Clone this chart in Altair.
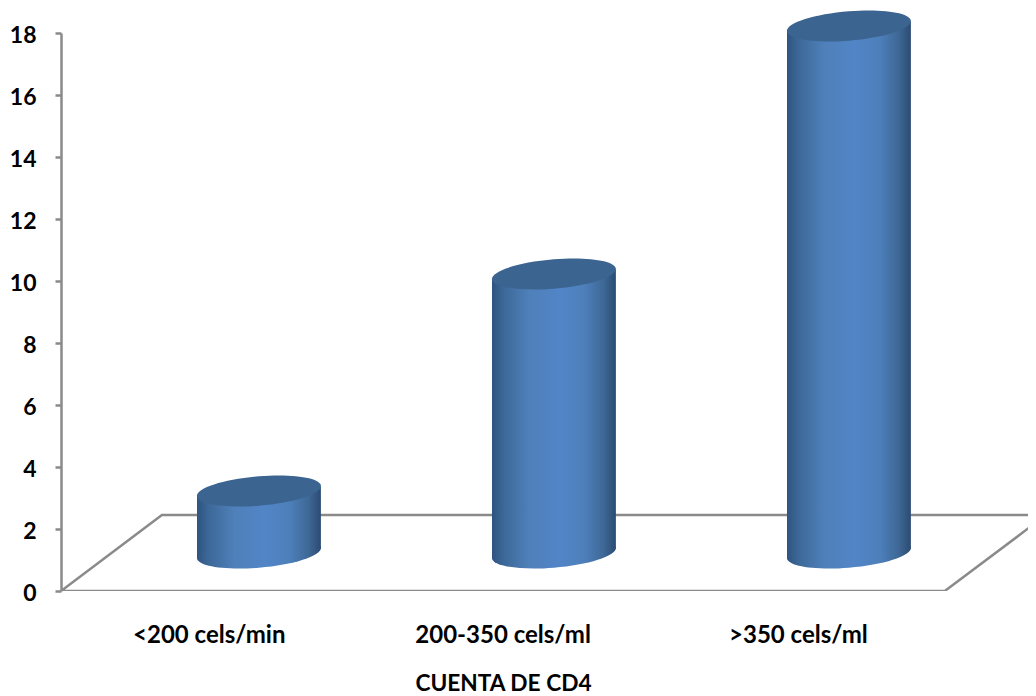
import altair as alt
import pandas as pd

categories = ["<200 cels/min", "200-350 cels/ml", ">350 cels/ml"]
values = [2, 9, 17]
slots = [0, 1, 2]
label_slots = [-0.17, 0.826, 1.827]

base = 1.226        # height of the cylinder floor on the value axis (3D depth)
half_w = 0.21       # half cylinder width in category units
tilt = 0.145        # perspective tilt in value units
floor_depth = 2.45
x_domain = [-0.671, 2.607]
floor_front = [-0.671, 2.325]
floor_back = [-0.329, 2.668]

GREY = "#8a8a8a"
FONT = "Lato"
LABEL_SIZE = 24

body_rows = []
for c, v, s in zip(categories, values, slots):
    body_rows.append(dict(cat=c, x=s - half_w, top=base + v - tilt, bot=base - tilt))
    body_rows.append(dict(cat=c, x=s + half_w, top=base + v + tilt, bot=base + tilt))
body = pd.DataFrame(body_rows)
ends = pd.DataFrame(dict(cat=categories, x=slots,
                         top=[base + v for v in values],
                         bot=[base] * 3))
floor = pd.DataFrame(dict(
    x=[floor_back[1], floor_front[1], floor_front[0], floor_back[0], floor_back[1]],
    y=[floor_depth, 0, 0, floor_depth, floor_depth],
    o=[0, 1, 2, 3, 4]))


def ellipse_path(a=62.0, k=5.0, h=14.7):
    kap = 0.5523
    def P(c, s):
        return f"{c:.4f} {(-k * c + h * s) / a:.4f}"
    return (f"M{P(1,0)} C{P(1,kap)} {P(kap,1)} {P(0,1)} "
            f"C{P(-kap,1)} {P(-1,kap)} {P(-1,0)} "
            f"C{P(-1,-kap)} {P(-kap,-1)} {P(0,-1)} "
            f"C{P(kap,-1)} {P(1,-kap)} {P(1,0)} Z")


grad = alt.Gradient(
    gradient="linear", x1=0, x2=1, y1=0, y2=0,
    stops=[
        alt.GradientStop(offset=0.0, color="#2f5480"),
        alt.GradientStop(offset=0.1, color="#3d6999"),
        alt.GradientStop(offset=0.3, color="#4f80ba"),
        alt.GradientStop(offset=0.55, color="#5285c7"),
        alt.GradientStop(offset=0.75, color="#4d7fba"),
        alt.GradientStop(offset=0.9, color="#3e6896"),
        alt.GradientStop(offset=1.0, color="#2b4b72"),
    ])

x_scale = alt.Scale(domain=x_domain, nice=False, zero=False)
y_scale = alt.Scale(domain=[0, 18], nice=False)

label_expr = " : ".join(
    f"datum.value == {s} ? '{c}'" for s, c in zip(label_slots, categories)) + " : ''"

floor_layer = alt.Chart(floor).mark_line(color=GREY, strokeWidth=2.5, clip=True).encode(
    x=alt.X("x:Q", scale=x_scale, axis=alt.Axis(
        values=label_slots, labelExpr=label_expr, ticks=False, domain=False, grid=False,
        labelFont=FONT, labelFontWeight="bold", labelFontSize=LABEL_SIZE, labelColor="black",
        labelPadding=32, labelOverlap=False, labelFlush=False,
        title="CUENTA DE CD4", titleFont=FONT, titleFontWeight="bold",
        titleFontSize=22.7, titleColor="black", titleX=442, titleY=92,
        titleAnchor="middle", titleAlign="center", titleBaseline="middle")),
    y=alt.Y("y:Q", scale=y_scale, axis=alt.Axis(
        values=list(range(0, 19, 2)), title=None, grid=False,
        domainColor=GREY, domainWidth=2.5, tickColor=GREY, tickWidth=2.5, tickSize=6,
        labelFont=FONT, labelFontWeight="bold", labelFontSize=23, labelColor="black",
        labelPadding=19, labelOffset=2.5)),
    order="o:Q")

bottom_layer = alt.Chart(ends).mark_point(
    shape=ellipse_path(), size=15376, filled=True, fill=grad, opacity=1, strokeWidth=0
).encode(x=alt.X("x:Q", scale=x_scale), y=alt.Y("bot:Q", scale=y_scale))

body_layer = alt.Chart(body).mark_area(fill=grad, opacity=1).encode(
    x=alt.X("x:Q", scale=x_scale),
    y=alt.Y("top:Q", scale=y_scale),
    y2="bot:Q",
    detail="cat:N")

top_layer = alt.Chart(ends).mark_point(
    shape=ellipse_path(), size=15376, filled=True, fill="#3b6491", opacity=1, strokeWidth=0
).encode(x=alt.X("x:Q", scale=x_scale), y=alt.Y("top:Q", scale=y_scale))

chart = alt.layer(floor_layer, bottom_layer, body_layer, top_layer).properties(
    width=967, height=558,
    autosize=alt.AutoSizeParams(type="none"),
    padding={"left": 53, "top": 25, "right": 0, "bottom": 105},
    background="white",
).configure_view(stroke=None)

chart.save("out.html", embed_options={"renderer": "svg", "actions": False})
